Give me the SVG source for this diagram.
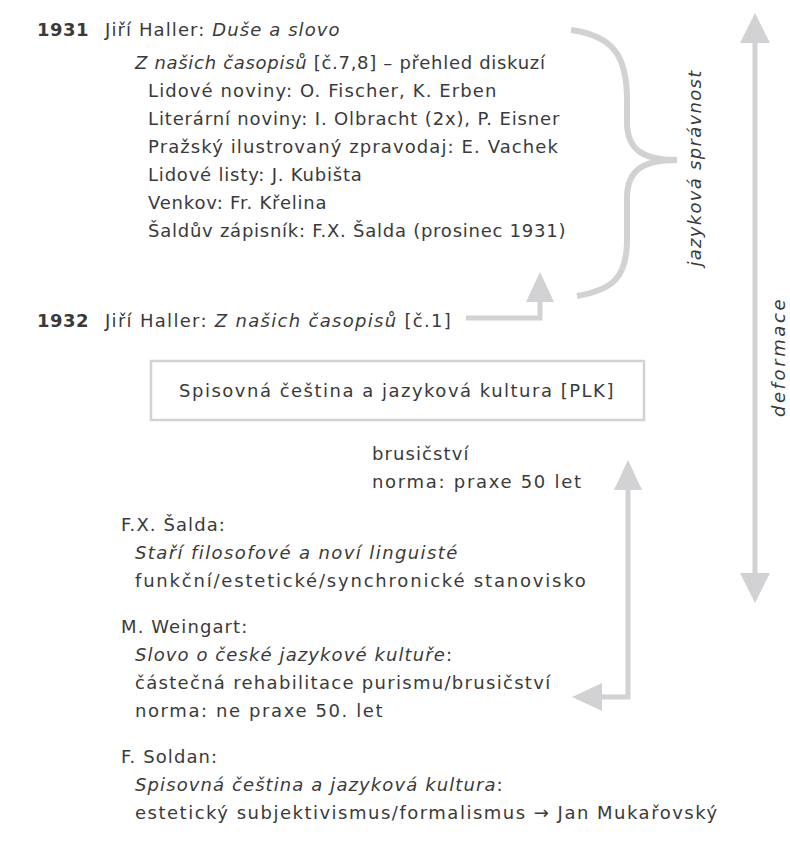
<svg xmlns="http://www.w3.org/2000/svg" width="790" height="856" viewBox="0 0 790 856">
<style>
text{font-family:"DejaVu Sans","Liberation Sans",sans-serif;font-size:18px;letter-spacing:1.1px;fill:#3a3a3a}
.b{font-weight:bold;letter-spacing:0.5px}
.i{font-style:italic}
.c{fill:none;stroke:#d2d2d4;stroke-width:5}
.br{fill:none;stroke:#d2d2d4;stroke-width:6}
.h{fill:#d2d2d4;stroke:none}
.box{fill:#fff;stroke:#d2d2d4;stroke-width:2.5}
</style>
<rect width="790" height="856" fill="#fff"/>
<g id="connectors">
<path class="br" d="M571,30 C615,36 627,58 627,100 L627,122 C627,150 643,160 677,160 C643,160 627,170 627,198 L627,240 C627,278 612,290 577,296"/>
<polyline class="c" points="466,318 540,318 540,298"/>
<polygon class="h" points="540,272 526,302 554,302"/>
<line class="c" x1="755" y1="40" x2="755" y2="576"/>
<polygon class="h" points="755,13 740,43 770,43"/>
<polygon class="h" points="755,603 740,573 770,573"/>
<polyline class="c" points="628,488 628,697 600,697"/>
<polygon class="h" points="628,460 614,490 642,490"/>
<polygon class="h" points="572,697 602,683 602,711"/>
</g>
<g id="y1931">
<text x="37" y="36" class="b">1931</text>
<text x="105" y="36">Jiří Haller: <tspan class="i">Duše a slovo</tspan></text>
</g>
<g id="casopisy">
<text x="135" y="69" style="letter-spacing:0.7px"><tspan class="i">Z našich časopisů</tspan> [č.7,8] – přehled diskuzí</text>
<text x="148" y="97">Lidové noviny: O. Fischer, K. Erben</text>
<text x="148" y="125" style="letter-spacing:0.85px">Literární noviny: I. Olbracht (2x), P. Eisner</text>
<text x="148" y="153">Pražský ilustrovaný zpravodaj: E. Vachek</text>
<text x="148" y="181" style="letter-spacing:0.8px">Lidové listy: J. Kubišta</text>
<text x="148" y="209" style="letter-spacing:0.8px">Venkov: Fr. Křelina</text>
<text x="148" y="237" style="letter-spacing:0.75px">Šaldův zápisník: F.X. Šalda (prosinec 1931)</text>
</g>
<g id="y1932">
<text x="37" y="327" class="b">1932</text>
<text x="105" y="327" style="letter-spacing:1.3px">Jiří Haller: <tspan class="i">Z našich časopisů</tspan> [č.1]</text>
</g>
<g id="plk">
<rect class="box" x="151" y="361" width="493" height="59"/>
<text x="397" y="397" text-anchor="middle" style="letter-spacing:1.5px">Spisovná čeština a jazyková kultura [PLK]</text>
</g>
<g id="brusicstvi">
<text x="372" y="460">brusičství</text>
<text x="372" y="488" style="letter-spacing:1.7px">norma: praxe 50 let</text>
</g>
<g id="salda">
<text x="121" y="531">F.X. Šalda:</text>
<text x="135" y="559" class="i" style="letter-spacing:1.4px">Staří filosofové a noví linguisté</text>
<text x="135" y="587" style="letter-spacing:1.8px">funkční/estetické/synchronické stanovisko</text>
</g>
<g id="weingart">
<text x="121" y="633">M. Weingart:</text>
<text x="135" y="661"><tspan class="i">Slovo o české jazykové kultuře</tspan>:</text>
<text x="135" y="689" style="letter-spacing:1.3px">částečná rehabilitace purismu/brusičství</text>
<text x="135" y="717" style="letter-spacing:1.6px">norma: ne praxe 50. let</text>
</g>
<g id="soldan">
<text x="121" y="763">F. Soldan:</text>
<text x="135" y="791"><tspan class="i">Spisovná čeština a jazyková kultura</tspan>:</text>
<text x="135" y="819" style="letter-spacing:1.5px">estetický subjektivismus/formalismus → Jan Mukařovský</text>
</g>
<g id="jazykova-spravnost">
<text class="i" transform="translate(701,168) rotate(-90)" text-anchor="middle" style="letter-spacing:1.3px">jazyková správnost</text>
</g>
<g id="deformace">
<text class="i" transform="translate(785,357) rotate(-90)" text-anchor="middle" style="letter-spacing:2.6px">deformace</text>
</g>
</svg>
